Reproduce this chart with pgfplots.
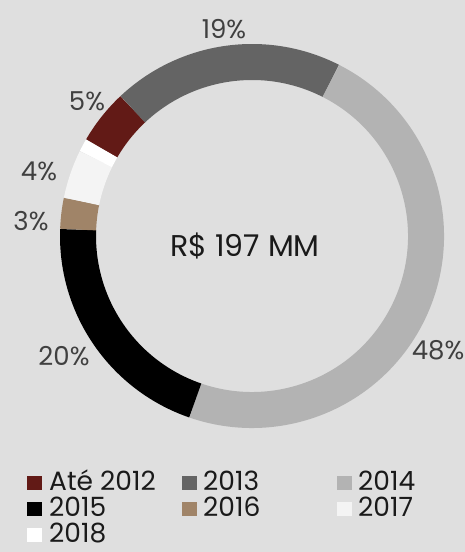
\documentclass[border=0pt]{standalone}
\usepackage{fontspec}
\setmainfont{Poppins}
\usepackage{pgfplots}
\usepackage{pgfplotstable}
\pgfplotsset{compat=1.18}
\definecolor{bg}{HTML}{DFDFDF}
\definecolor{c0}{HTML}{621A16}
\definecolor{c1}{HTML}{646464}
\definecolor{c2}{HTML}{B3B3B3}
\definecolor{c3}{HTML}{000000}
\definecolor{c4}{HTML}{A08468}
\definecolor{c5}{HTML}{F4F4F4}
\definecolor{c6}{HTML}{FFFFFF}
\definecolor{lbl}{HTML}{404040}
\definecolor{txt}{HTML}{1A1A1A}
% share of each year in R$ 197 MM (percent)
\pgfplotstableread[col sep=comma]{
label,value
Até 2012,4.6
2013,19.5
2014,47.8
2015,20.3
2016,2.6
2017,4.1
2018,1.1
}\donut
% cumulative angles (clockwise from 12 o'clock, first slice starts at 300.2 deg)
\xdef\cum{300.2}
\foreach \i in {0,...,6}{%
  \pgfplotstablegetelem{\i}{value}\of\donut
  \pgfmathsetmacro\tmpS{90-\cum}%
  \pgfmathsetmacro\tmpE{90-\cum-3.6*\pgfplotsretval}%
  \expandafter\xdef\csname sa\i\endcsname{\tmpS}%
  \expandafter\xdef\csname ea\i\endcsname{\tmpE}%
  \pgfmathsetmacro\tmpC{\cum+3.6*\pgfplotsretval}%
  \xdef\cum{\tmpC}%
}
\tikzset{
  dlabel/.style={text=lbl, inner sep=0pt, font=\fontsize{26bp}{30bp}\selectfont},
  ctext/.style={text=txt, inner sep=0pt, font=\fontsize{30bp}{34bp}\selectfont},
  legtext/.style={text=txt, inner sep=0pt, anchor=base west, font=\fontsize{26.5bp}{30bp}\selectfont},
}
\begin{document}
\begin{tikzpicture}
\begin{axis}[x=1bp, y=1bp, xmin=0, xmax=465, ymin=0, ymax=552,
  scale only axis, hide axis, clip=true]
\fill[bg] (axis cs:0,0) rectangle (axis cs:465,552);
\pgfplotsinvokeforeach{0,...,6}{
  \draw[c#1, line width=36bp]
    ([shift={(\csname sa#1\endcsname:174bp)}]axis cs:252,316)
    arc[start angle=\csname sa#1\endcsname, end angle=\csname ea#1\endcsname, radius=174bp];
}
% data labels
\node[dlabel] at (axis cs:224,523) {19\%};
\node[dlabel] at (axis cs:87,451) {5\%};
\node[dlabel] at (axis cs:39,381) {4\%};
\node[dlabel] at (axis cs:31,331) {3\%};
\node[dlabel] at (axis cs:64,196) {20\%};
\node[dlabel] at (axis cs:438,202) {48\%};
\node[ctext] at (axis cs:245,306) {R\$ 197 MM};
% legend
\fill[c0] (axis cs:27,62) rectangle (axis cs:42,76);
\fill[c1] (axis cs:182,62) rectangle (axis cs:197,76);
\fill[c2] (axis cs:337,62) rectangle (axis cs:352,76);
\fill[c3] (axis cs:27,36) rectangle (axis cs:42,50);
\fill[c4] (axis cs:182,36) rectangle (axis cs:197,50);
\fill[c5] (axis cs:337,36) rectangle (axis cs:352,50);
\fill[c6] (axis cs:27,10) rectangle (axis cs:42,24);
\node[legtext] at (axis cs:49,61) {Até 2012};
\node[legtext] at (axis cs:203,61) {2013};
\node[legtext] at (axis cs:358,61) {2014};
\node[legtext] at (axis cs:49,35) {2015};
\node[legtext] at (axis cs:203,35) {2016};
\node[legtext] at (axis cs:358,35) {2017};
\node[legtext] at (axis cs:49,9) {2018};
\end{axis}
\pgfresetboundingbox
\useasboundingbox (current axis.south west) rectangle (current axis.north east);
\end{tikzpicture}
\end{document}
